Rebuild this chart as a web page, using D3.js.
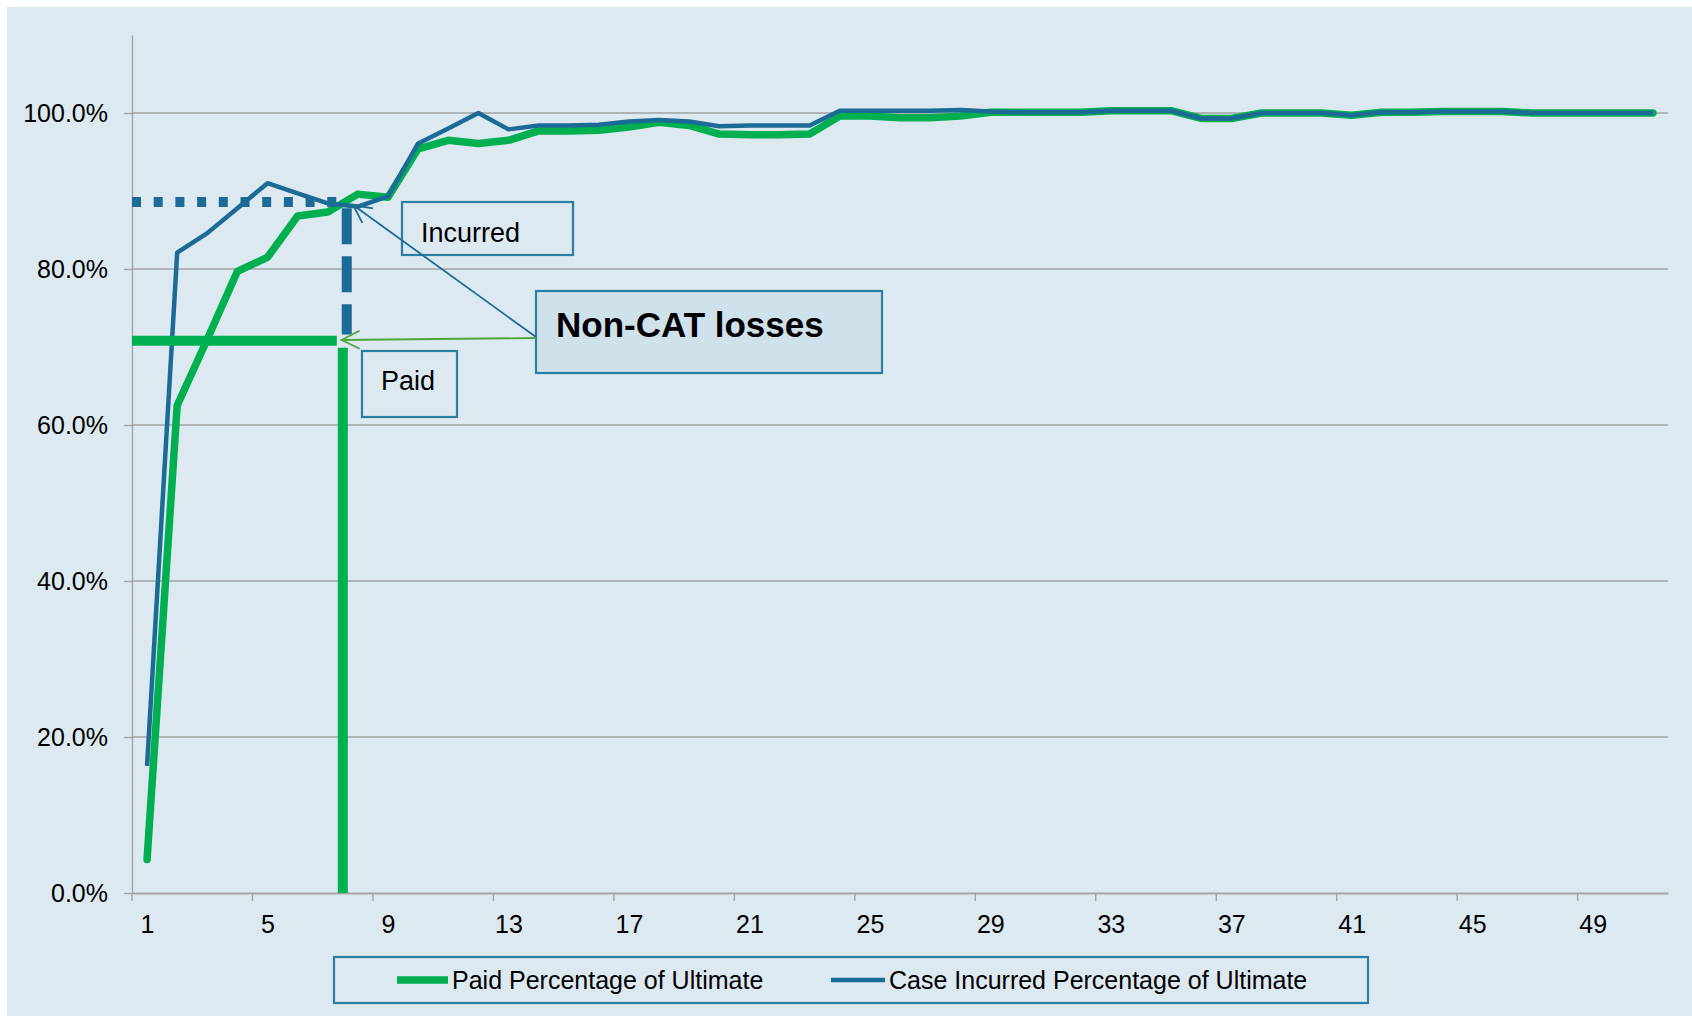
<!DOCTYPE html>
<html>
<head>
<meta charset="utf-8">
<script src="https://cdn.jsdelivr.net/npm/d3@7/dist/d3.min.js"></script>
<style>
  body { margin: 0; background: #ffffff; }
  text { font-family: "Liberation Sans", Arial, sans-serif; fill: #000; }
</style>
</head>
<body>
<div id="vis"></div>
<script>
// development periods (categories)
var periods = [1, 2, 3, 4, 5, 6, 7, 8, 9, 10, 11, 12, 13, 14, 15, 16, 17, 18, 19, 20,
  21, 22, 23, 24, 25, 26, 27, 28, 29, 30, 31, 32, 33, 34, 35, 36, 37, 38, 39, 40,
  41, 42, 43, 44, 45, 46, 47, 48, 49, 50, 51];

// Paid Percentage of Ultimate
var paid = [0.043, 0.625, 0.710, 0.797, 0.815, 0.868, 0.873, 0.896, 0.892, 0.954,
  0.965, 0.961, 0.965, 0.977, 0.977, 0.978, 0.982, 0.988, 0.984, 0.973,
  0.972, 0.972, 0.973, 0.996, 0.996, 0.994, 0.994, 0.996, 1.001, 1.001,
  1.001, 1.001, 1.003, 1.003, 1.003, 0.993, 0.993, 1.000, 1.000, 1.000,
  0.997, 1.001, 1.001, 1.002, 1.002, 1.002, 1.000, 1.000, 1.000, 1.000, 1.000];

// Case Incurred Percentage of Ultimate
var incurred = [0.163, 0.821, 0.846, 0.878, 0.910, 0.897, 0.884, 0.880, 0.893, 0.961,
  0.980, 1.000, 0.979, 0.984, 0.984, 0.985, 0.989, 0.991, 0.989, 0.983,
  0.984, 0.984, 0.984, 1.003, 1.003, 1.003, 1.003, 1.004, 1.002, 1.001,
  1.001, 1.001, 1.003, 1.003, 1.003, 0.993, 0.993, 1.000, 1.000, 1.000,
  0.997, 1.001, 1.001, 1.002, 1.002, 1.002, 1.000, 1.000, 1.000, 1.000, 1.000];

var xLabels = [1, 5, 9, 13, 17, 21, 25, 29, 33, 37, 41, 45, 49];
var yTicks = [0, 0.2, 0.4, 0.6, 0.8, 1.0];

// reading guides: [x from, x to, y from, y to] in data units
var incurredGuideH = [0.5, 7.3, 0.886, 0.886];
var incurredGuideV = [7.63, 7.63, 0.878, 0.716];
var paidGuideH = [0.5, 7.3, 0.708, 0.708];
var paidGuideV = [7.5, 7.5, 0.699, 0];

var width = 1692, height = 1016;
var green = '#00b050', blue = '#1c6a96', boxStroke = '#2c7fa3';

var svg = d3.select('#vis')
  .append('svg')
  .attr('width', width)
  .attr('height', height);

svg.append('rect')
  .attr('x', 7).attr('y', 7)
  .attr('width', width - 7).attr('height', height - 7)
  .attr('fill', '#dde9f0');

var defs = svg.append('defs');
function arrowMarker(id, colour) {
  defs.append('marker')
    .attr('id', id)
    .attr('viewBox', '-2 -11 24 22')
    .attr('markerUnits', 'userSpaceOnUse')
    .attr('markerWidth', 24).attr('markerHeight', 22)
    .attr('refX', 18).attr('refY', 0)
    .attr('orient', 'auto')
    .append('path')
    .attr('d', 'M0,-9L18,0L0,9')
    .attr('fill', 'none')
    .attr('stroke', colour)
    .attr('stroke-width', 1.8);
}
arrowMarker('arrowBlue', blue);
arrowMarker('arrowGreen', '#4ca63a');

var x = d3.scaleLinear().domain([0.5, 51.5]).range([132, 1668]);
var y = d3.scaleLinear().domain([0, 1.1]).range([893, 35]);

// gridlines
svg.append('g')
  .selectAll('line')
  .data(yTicks.filter(function(d) { return d > 0; }))
  .enter()
  .append('line')
  .attr('x1', x(0.5)).attr('x2', x(51.5))
  .attr('y1', function(d) { return y(d); })
  .attr('y2', function(d) { return y(d); })
  .attr('stroke', '#a2a2a2')
  .attr('stroke-width', 1.4);

// y axis
var y_axis = d3.axisLeft(y)
  .tickValues(yTicks)
  .tickFormat(d3.format('.1%'))
  .tickSize(8)
  .tickSizeOuter(0)
  .tickPadding(16);

var gy = svg.append('g')
  .attr('transform', 'translate(' + x(0.5) + ',0)')
  .call(y_axis);
gy.select('.domain').attr('stroke', '#a2a2a2').attr('stroke-width', 1.4);
gy.selectAll('.tick line').attr('stroke', '#a2a2a2').attr('stroke-width', 1.4);
gy.selectAll('.tick text').style('font-size', '25px').attr('font-family', null);

// x axis (labels at category centres, ticks on category boundaries)
var x_axis = d3.axisBottom(x)
  .tickValues(xLabels)
  .tickFormat(d3.format('d'))
  .tickSize(0)
  .tickSizeOuter(0)
  .tickPadding(22);

var gx = svg.append('g')
  .attr('transform', 'translate(0,' + y(0) + ')')
  .call(x_axis);
gx.select('.domain').attr('stroke', '#a6a6a6').attr('stroke-width', 2.2);
gx.selectAll('.tick text').style('font-size', '25px').attr('font-family', null);

svg.append('g')
  .selectAll('line')
  .data(xLabels)
  .enter()
  .append('line')
  .attr('x1', function(d) { return x(d - 0.5); })
  .attr('x2', function(d) { return x(d - 0.5); })
  .attr('y1', y(0)).attr('y2', y(0) + 8)
  .attr('stroke', '#a2a2a2')
  .attr('stroke-width', 1.4);

// series
var line = d3.line()
  .x(function(d, i) { return x(periods[i]); })
  .y(function(d) { return y(d); });

svg.append('path')
  .datum(paid)
  .attr('d', line)
  .attr('fill', 'none')
  .attr('stroke', green)
  .attr('stroke-width', 7.5)
  .attr('stroke-linejoin', 'round')
  .attr('stroke-linecap', 'round');

svg.append('path')
  .datum(incurred)
  .attr('d', line)
  .attr('fill', 'none')
  .attr('stroke', blue)
  .attr('stroke-width', 4.5)
  .attr('stroke-linejoin', 'round');

// reading guides
function guide(g, colour, dash) {
  svg.append('line')
    .attr('x1', x(g[0])).attr('x2', x(g[1]))
    .attr('y1', y(g[2])).attr('y2', y(g[3]))
    .attr('stroke', colour)
    .attr('stroke-width', 10)
    .attr('stroke-dasharray', dash);
}
guide(incurredGuideH, blue, '9 12.7');
guide(incurredGuideV, blue, '36 12');
guide(paidGuideH, green, null);
guide(paidGuideV, green, null);

// boxes
function box(bx, by, bw, bh, fill) {
  svg.append('rect')
    .attr('x', bx).attr('y', by)
    .attr('width', bw).attr('height', bh)
    .attr('fill', fill)
    .attr('stroke', boxStroke)
    .attr('stroke-width', 2.2);
}

box(402, 202, 171, 53, 'none');
svg.append('text').attr('x', 421).attr('y', 242).style('font-size', '27px').text('Incurred');

box(362, 351, 95, 66, 'none');
svg.append('text').attr('x', 381).attr('y', 390).style('font-size', '27px').text('Paid');

box(536, 291, 346, 82, '#cfe1ea');
svg.append('text').attr('x', 556).attr('y', 337)
  .style('font-size', '35px').style('font-weight', 'bold')
  .text('Non-CAT losses');

// callout arrows from the Non-CAT box
svg.append('line')
  .attr('x1', 536).attr('y1', 337)
  .attr('x2', x(7.84)).attr('y2', y(0.882))
  .attr('stroke', blue)
  .attr('stroke-width', 1.8)
  .attr('marker-end', 'url(#arrowBlue)');

svg.append('line')
  .attr('x1', 536).attr('y1', 338)
  .attr('x2', x(7.46)).attr('y2', y(0.709))
  .attr('stroke', '#4ca63a')
  .attr('stroke-width', 1.8)
  .attr('marker-end', 'url(#arrowGreen)');

// legend
box(334, 957, 1034, 46, 'none');
var legend = [
  {name: 'Paid Percentage of Ultimate', colour: green, w: 7.5, x0: 397, x1: 448},
  {name: 'Case Incurred Percentage of Ultimate', colour: blue, w: 4.5, x0: 831, x1: 885}
];
legend.forEach(function(d) {
  svg.append('line')
    .attr('x1', d.x0).attr('x2', d.x1)
    .attr('y1', 980).attr('y2', 980)
    .attr('stroke', d.colour)
    .attr('stroke-width', d.w);
  svg.append('text')
    .attr('x', d.x1 + 4).attr('y', 989)
    .style('font-size', '25px')
    .text(d.name);
});
</script>
</body>
</html>
